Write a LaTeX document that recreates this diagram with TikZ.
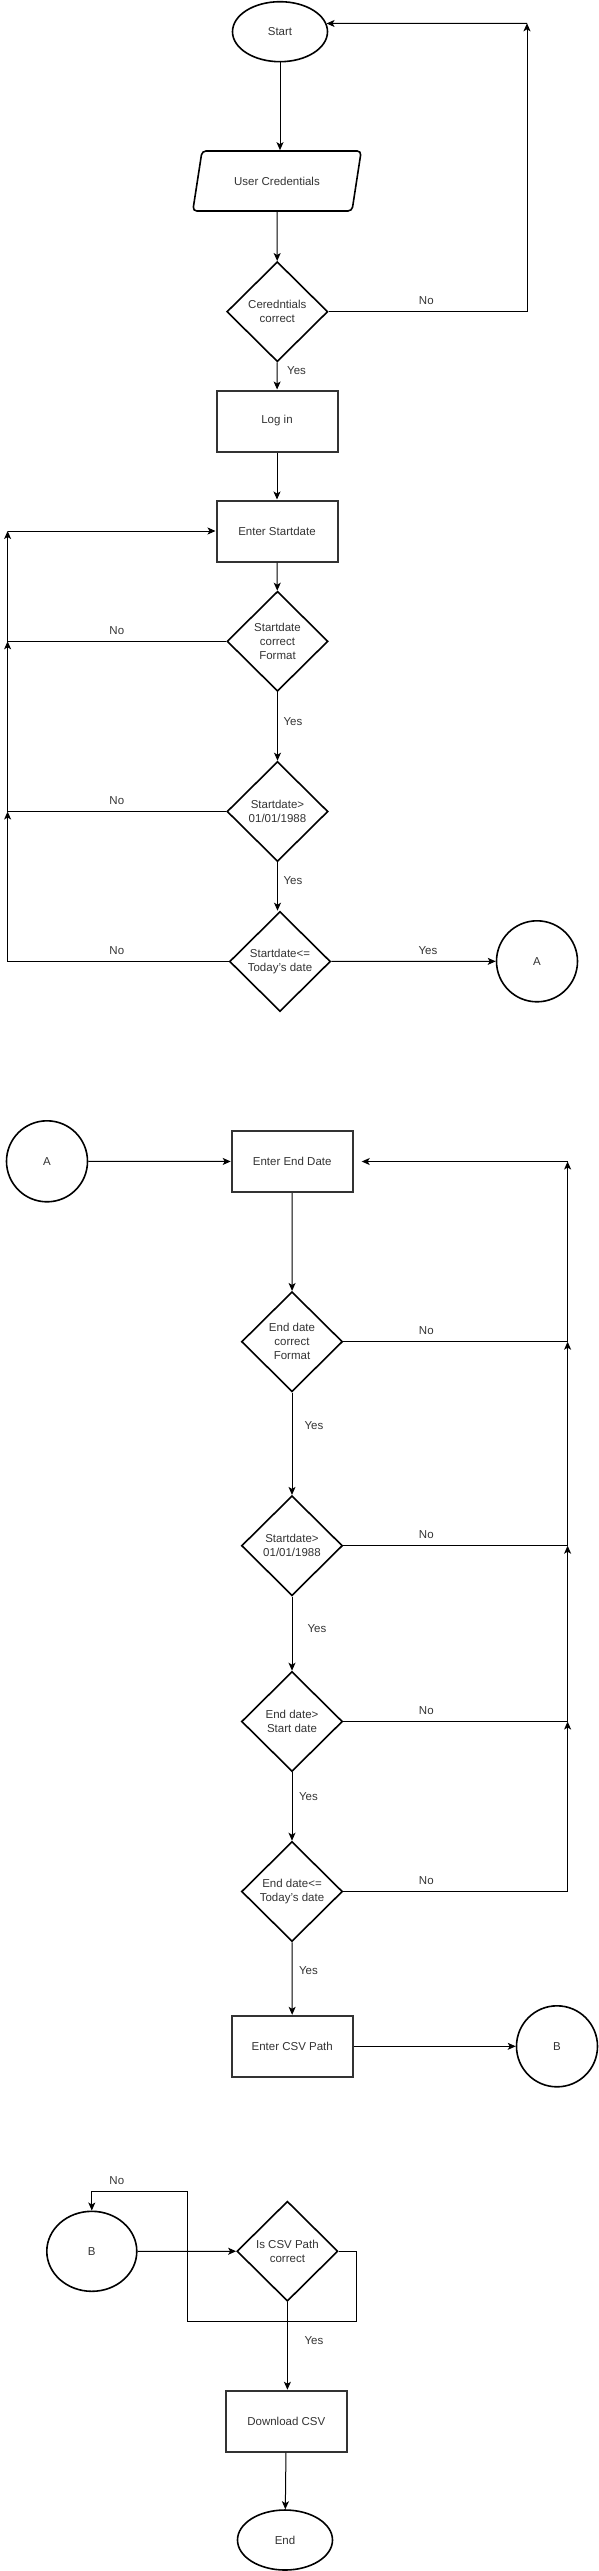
\documentclass[tikz,border=0pt]{standalone}
\usepackage{fontspec}
\setmainfont{Liberation Sans}
\usetikzlibrary{positioning, arrows.meta, shapes.geometric}

\begin{document}
\begin{tikzpicture}[x=1pt, y=-1pt,
        terminal/.style = {draw, ellipse, line width=1.6pt, minimum width=95pt, minimum height=60pt, inner sep=0pt},
        process/.style = {draw=black!80, line width=2pt, minimum width=121pt, minimum height=61pt, inner sep=0pt},
        inout/.style = {draw, trapezium, trapezium left angle=58, trapezium right angle=122, trapezium stretches=true, rounded corners=4pt, line width=1.6pt, minimum width=170pt, minimum height=60pt, inner sep=0pt},
        decision/.style = {draw, diamond, line width=1.6pt, minimum width=101pt, minimum height=100pt, inner sep=0pt, align=center},
        onpage/.style = {draw, circle, line width=1.6pt, minimum size=81pt, inner sep=0pt},
        flow/.style = {-{Stealth[length=8pt, width=7pt, inset=2pt]}, line width=1pt},
        edgetext/.style = {inner sep=1pt},
        font=\fontsize{11.5}{14}\selectfont, text=black!80,
    ]
        \useasboundingbox (0,0) rectangle (599,2571);

        \node[terminal] (start) at (280, 31.7) {Start};
        \node[inout] (cred) at (277, 181) {User Credentials};
        \node[decision] (credok) at (277.3, 311.7) {Ceredntials\\correct};
        \node[process] (login) at (277, 421) {Log in};
        \node[process] (sdate) at (277, 531) {Enter Startdate};
        \node[decision] (sdfmt) at (277.5, 641.3) {Startdate\\correct\\Format};
        \node[decision] (sdmin) at (277.5, 811.5) {Startdate>\\01/01/1988};
        \node[decision] (sdmax) at (280, 961.5) {Startdate<=\\Today's date};
        \node[onpage] (outa) at (537, 961.3) {A};
        \coordinate (nr1) at (527, 23.3);
        \coordinate (lrail) at (7.6, 531);

        \draw[flow] (start) -- (start |- cred.north);
        \draw[flow] (cred) -- (credok);
        \draw[flow] (credok) -- (login);
        \draw[flow] (credok.east) -- (credok.east -| nr1) -- (nr1);
        \draw[flow] (nr1) -- (start.10);
        \draw[flow] (login) -- (sdate);
        \draw[flow] (sdate) -- (sdfmt);
        \draw[flow] (sdfmt) -- (sdmin);
        \draw[flow] (sdmin.south) -- (sdmin.south |- sdmax.north);
        \draw[flow] (sdmax) -- (outa);
        \draw[flow] (lrail) -- (sdate.west);
        \draw[flow] (sdfmt.west) -- (sdfmt.west -| lrail) -- (lrail);
        \draw[flow] (sdmin.west) -- (sdmin.west -| lrail) -- (sdfmt.west -| lrail);
        \draw[flow] (sdmax.west) -- (sdmax.west -| lrail) -- (sdmin.west -| lrail);

        \node[edgetext] (n1) at (426.3, 300.7) {No};
        \node[edgetext] (y1) at (296.6, 370.3) {Yes};
        \node[edgetext] (n2) at (116.8, 630.7) {No};
        \node[edgetext] (y2) at (293, 721.7) {Yes};
        \node[edgetext] (n3) at (116.8, 800.7) {No};
        \node[edgetext] (y3) at (293, 880.3) {Yes};
        \node[edgetext] (n4) at (116.8, 950.7) {No};
        \node[edgetext] (y4) at (428, 950.7) {Yes};

        \node[onpage] (ina) at (47, 1161.3) {A};
        \node[process] (edate) at (292.2, 1161.5) {Enter End Date};
        \node[decision] (edfmt) at (292, 1341.7) {End date\\correct\\Format};
        \node[decision] (edmin) at (292, 1545.7) {Startdate>\\01/01/1988};
        \node[decision] (edsd) at (292, 1721.5) {End date>\\Start date};
        \node[decision] (edmax) at (292, 1891.5) {End date<=\\Today's date};
        \node[process] (csv) at (292.2, 2046.3) {Enter CSV Path};
        \node[onpage] (outb) at (557, 2046.3) {B};
        \coordinate (rrail) at (567.6, 1161.5);

        \draw[flow] (ina) -- (edate);
        \draw[flow, shorten >=8pt] (rrail) -- (edate.east);
        \draw[flow] (edate) -- (edfmt);
        \draw[flow] (edfmt) -- (edmin);
        \draw[flow] (edmin) -- (edsd);
        \draw[flow] (edsd) -- (edmax);
        \draw[flow] (edmax) -- (csv);
        \draw[flow] (csv) -- (outb);
        \draw[flow] (edfmt.east) -- (edfmt.east -| rrail) -- (rrail);
        \draw[flow] (edmin.east) -- (edmin.east -| rrail) -- (edfmt.east -| rrail);
        \draw[flow] (edsd.east) -- (edsd.east -| rrail) -- (edmin.east -| rrail);
        \draw[flow] (edmax.east) -- (edmax.east -| rrail) -- (edsd.east -| rrail);

        \node[edgetext] (n5) at (426.3, 1330.7) {No};
        \node[edgetext] (y5) at (314, 1425.7) {Yes};
        \node[edgetext] (n6) at (426.3, 1534.7) {No};
        \node[edgetext] (y6) at (317, 1628.7) {Yes};
        \node[edgetext] (n7) at (426.3, 1710.7) {No};
        \node[edgetext] (y7) at (308.4, 1796.7) {Yes};
        \node[edgetext] (n8) at (426.3, 1880.7) {No};
        \node[edgetext] (y8) at (308.4, 1970.7) {Yes};

        \node[draw, ellipse, line width=1.6pt, minimum width=90pt, minimum height=80pt, inner sep=0pt] (inb) at (91.8, 2251.3) {B};
        \node[decision] (csvok) at (287.4, 2251.2) {Is CSV Path\\correct};
        \node[process] (dl) at (286.3, 2421.2) {Download CSV};
        \node[terminal] (finish) at (285, 2540) {End};
        \coordinate (lp1) at (356.9, 2321.3);
        \coordinate (lp2) at (187, 2191.7);

        \draw[flow] (inb) -- (csvok);
        \draw[flow] (csvok.east) -- (csvok.east -| lp1) -- (lp1) -- (lp1 -| lp2) -- (lp2) -- (lp2 -| inb.north) -- (inb.north);
        \draw[flow] (csvok.south) -- (csvok.south |- dl.north);
        \draw[flow] (dl) -- (finish);

        \node[edgetext] (n9) at (116.8, 2180.7) {No};
        \node[edgetext] (y9) at (314, 2340.7) {Yes};
    \end{tikzpicture}
\end{document}
